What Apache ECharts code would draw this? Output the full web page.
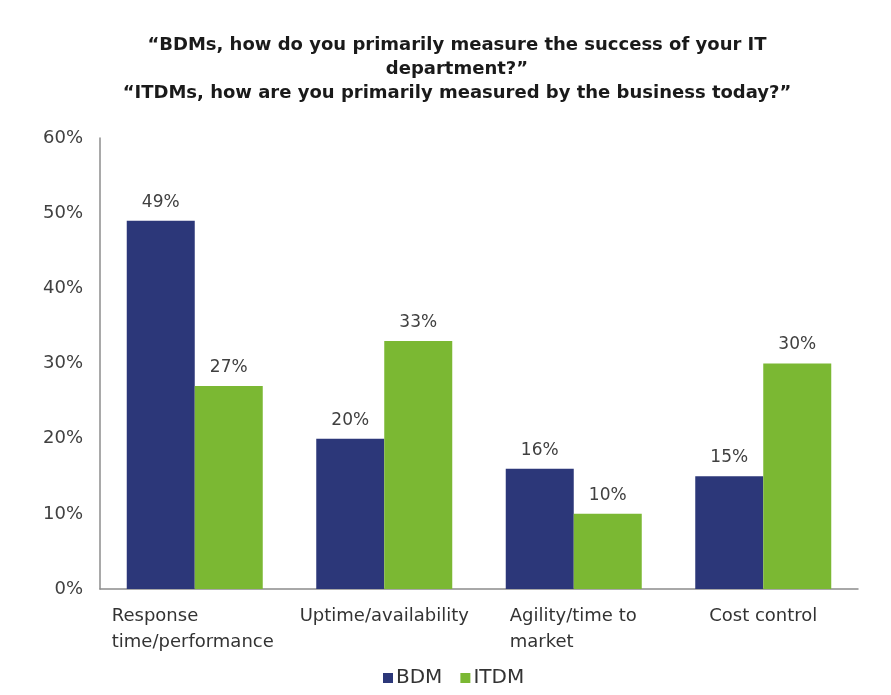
<!DOCTYPE html>
<html>
<head>
<meta charset="utf-8">
<script src="https://cdn.jsdelivr.net/npm/echarts@6/dist/echarts.min.js"></script>
<style>
  html, body { margin: 0; padding: 0; background: #ffffff; }
  #chart { width: 891px; height: 695px; }
</style>
</head>
<body>
<div id="chart"></div>
<script>
// Survey answers, share of respondents (%)
const categories = ['Response\ntime/performance', 'Uptime/availability', 'Agility/time to\nmarket', 'Cost control'];
const bdmValues = [49, 20, 16, 15];
const itdmValues = [27, 33, 10, 30];
const seriesNames = ['BDM', 'ITDM'];
const yTicks = [0, 10, 20, 30, 40, 50, 60];

const titleLines = [
  '“BDMs, how do you primarily measure the success of your IT',
  'department?”',
  '“ITDMs, how are you primarily measured by the business today?”'
];

const FONT = '"DejaVu Sans", Verdana, sans-serif';
const labelColor = '#404040';

// Multi-line category labels are left-aligned inside a centred block
const labelBlockWidth = [166, 0, 128, 0];

const chart = echarts.init(document.getElementById('chart'), null, { renderer: 'canvas' });

const rich = {};
labelBlockWidth.forEach((w, i) => {
  rich['c' + i] = {
    fontFamily: FONT, fontSize: 18, color: '#333333', lineHeight: 26,
    align: 'left'
  };
  if (w) rich['c' + i].width = w;
});

chart.setOption({
  backgroundColor: '#ffffff',
  animation: false,
  title: {
    text: titleLines.join('\n'),
    left: 452,
    top: 28,
    textAlign: 'center',
    textStyle: {
      fontFamily: FONT, fontSize: 18, fontWeight: 'bold', color: '#1a1a1a',
      lineHeight: 24, align: 'center'
    }
  },
  legend: {
    data: seriesNames,
    top: 668,
    left: 383,
    padding: 0,
    icon: 'rect',
    itemWidth: 10,
    itemHeight: 10,
    itemGap: 18,
    textStyle: { fontFamily: FONT, fontSize: 20, color: '#333333', padding: [0, 0, 0, -2] }
  },
  grid: { left: 100, right: 33, top: 138, bottom: 106, containLabel: false },
  xAxis: {
    type: 'category',
    data: categories,
    axisLine: { lineStyle: { color: '#8c8c8c', width: 1.5 } },
    axisTick: { show: false },
    axisLabel: {
      margin: 14,
      interval: 0,
      formatter: (v, i) => '{c' + i + '|' + v.split('\n').join('}\n{c' + i + '|') + '}',
      rich: rich
    }
  },
  yAxis: {
    type: 'value',
    min: yTicks[0],
    max: yTicks[yTicks.length - 1],
    interval: 10,
    axisLine: { show: true, lineStyle: { color: '#8c8c8c', width: 1.5 } },
    axisTick: { show: false },
    splitLine: { show: false },
    axisLabel: {
      margin: 17,
      fontFamily: FONT, fontSize: 18, color: labelColor,
      formatter: v => v + '%'
    }
  },
  series: [
    {
      name: seriesNames[0],
      type: 'bar',
      data: bdmValues,
      barWidth: 68,
      barGap: '0%',
      itemStyle: { color: '#2c3779' },
      label: {
        show: true, position: 'top', distance: 10,
        fontFamily: FONT, fontSize: 17, color: labelColor,
        formatter: p => p.value + '%'
      }
    },
    {
      name: seriesNames[1],
      type: 'bar',
      data: itdmValues,
      barWidth: 68,
      barGap: '0%',
      itemStyle: { color: '#7bb833' },
      label: {
        show: true, position: 'top', distance: 10,
        fontFamily: FONT, fontSize: 17, color: labelColor,
        formatter: p => p.value + '%'
      }
    }
  ]
});
</script>
</body>
</html>
